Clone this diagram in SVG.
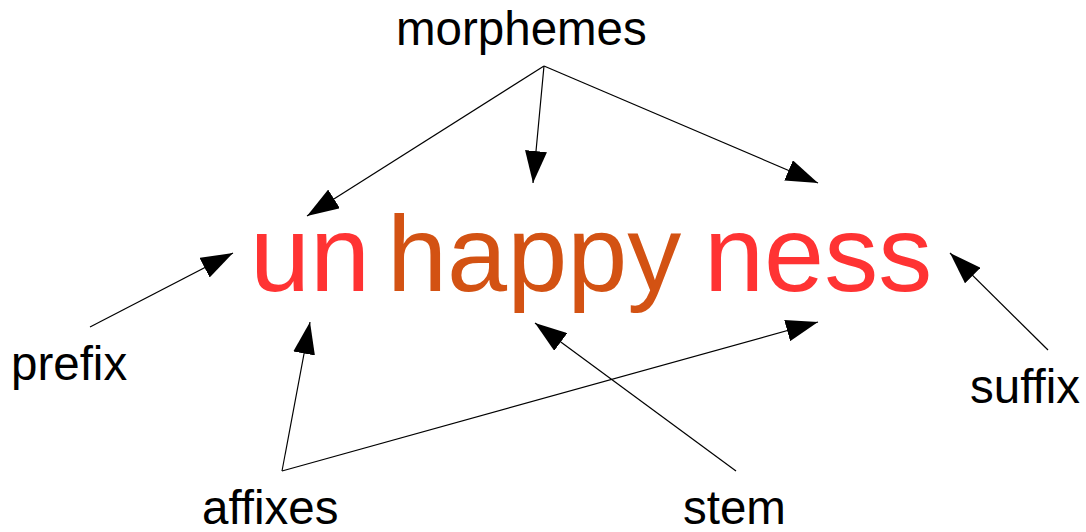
<svg xmlns="http://www.w3.org/2000/svg" width="1086" height="532" viewBox="0 0 1086 532">
<style>
.lbl{font-family:"Liberation Sans",Arial,sans-serif;font-size:47.5px;fill:#000}
.big{font-family:"Liberation Sans",Arial,sans-serif;font-size:108px}
.red{fill:#ff3333}
.brn{fill:#d35213}
.c line{stroke:#000;stroke-width:1.2;marker-end:url(#ah)}
</style>
<defs>
<marker id="ah" markerUnits="userSpaceOnUse" markerWidth="32" markerHeight="22" refX="32" refY="11" orient="auto" viewBox="0 0 32 22">
<path d="M0,0 L32,11 L0,22 z" fill="#000"/>
</marker>
</defs>
<rect width="1086" height="532" fill="#fff"/>
<g class="c" id="connectors">
<line x1="544" y1="66" x2="307" y2="216"/>
<line x1="544" y1="66" x2="533" y2="183"/>
<line x1="544" y1="66" x2="818" y2="183"/>
<line x1="90" y1="327" x2="233" y2="253"/>
<line x1="282" y1="471" x2="310" y2="322"/>
<line x1="282" y1="471" x2="818" y2="322"/>
<line x1="736" y1="471" x2="535" y2="323"/>
<line x1="1048" y1="350" x2="950" y2="253"/>
</g>
<g id="morphemes"><text class="lbl" x="396" y="45">morphemes</text></g>
<g id="un"><text class="big red" x="250" y="291">un</text></g>
<g id="happy"><text class="big brn" x="387" y="291">happy</text></g>
<g id="ness"><text class="big red" x="704" y="291">ness</text></g>
<g id="prefix"><text class="lbl" x="11" y="380">prefix</text></g>
<g id="suffix"><text class="lbl" x="970" y="403">suffix</text></g>
<g id="affixes"><text class="lbl" x="202" y="524">affixes</text></g>
<g id="stem"><text class="lbl" x="683" y="524">stem</text></g>
</svg>
